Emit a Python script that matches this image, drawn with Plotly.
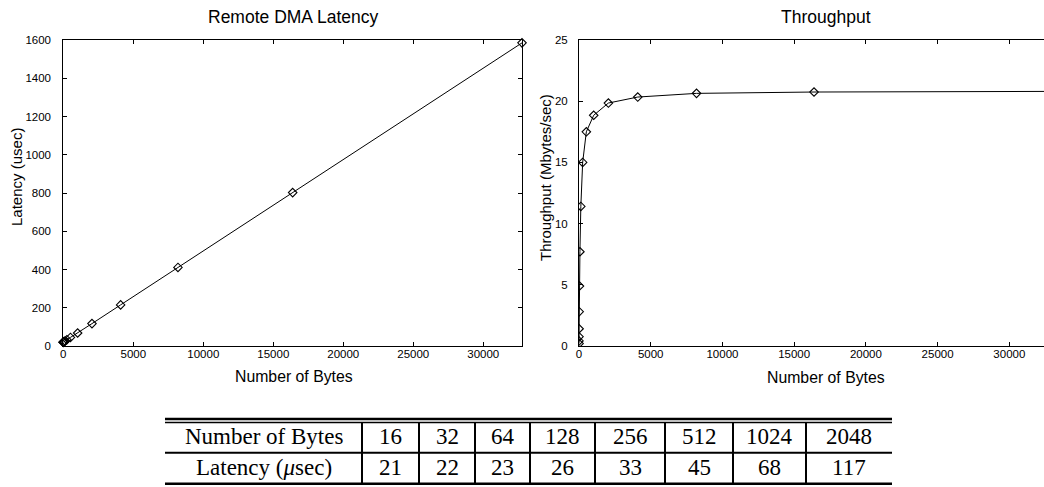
import plotly.graph_objects as go

# ---------------- data ----------------
num_bytes = [1, 2, 4, 8, 16, 32, 64, 128, 256, 512, 1024, 2048, 4096, 8192, 16384, 32768]
latency_usec = [20, 20, 20, 20, 21, 22, 23, 26, 33, 45, 68, 117, 215, 411, 802, 1585]
throughput_mbs = [0.2, 0.41, 0.76, 1.41, 2.8, 4.9, 7.7, 11.4, 15.0, 17.5, 18.85, 19.85,
                  20.34, 20.64, 20.75, 20.8]

x_ticks = [0, 5000, 10000, 15000, 20000, 25000, 30000]
lat_ticks = [0, 200, 400, 600, 800, 1000, 1200, 1400, 1600]
thr_ticks = [0, 5, 10, 15, 20, 25]

table_header = ["Number of Bytes", "16", "32", "64", "128", "256", "512", "1024", "2048"]
table_row = ["Latency (<i>μ</i>sec)", "21", "22", "23", "26", "33", "45", "68", "117"]

# ---------------- layout constants (pixels) ----------------
W, H = 1044, 487
def px(x):
    return x / W
def py(y):
    return 1 - y / H

SANS = "Liberation Sans, Arial, sans-serif"
SERIF = "Liberation Serif, Times New Roman, serif"

TABLE_LEFT = 165
TABLE_COL_WIDTHS = [197, 57, 56, 55, 65, 70, 68, 73, 86]
TABLE_TOP1, TABLE_TOP2, TABLE_MID, TABLE_BOT = 419, 422.5, 452.7, 483.7

fig = go.Figure()

fig.add_trace(go.Scatter(
    x=num_bytes, y=latency_usec, mode="lines+markers",
    line=dict(color="black", width=1),
    marker=dict(symbol="diamond-open", size=6.5, color="black", line=dict(width=1.1)),
    cliponaxis=False, xaxis="x", yaxis="y", showlegend=False))

fig.add_trace(go.Scatter(
    x=num_bytes, y=throughput_mbs, mode="lines+markers",
    line=dict(color="black", width=1),
    marker=dict(symbol="diamond-open", size=6.5, color="black", line=dict(width=1.1)),
    xaxis="x2", yaxis="y2", showlegend=False))

axis_common = dict(showgrid=False, zeroline=False, showline=True, linecolor="black",
                   linewidth=1, ticks="inside", ticklen=4, tickcolor="black",
                   automargin=False,
                   tickfont=dict(family=SANS, size=11.5, color="black"))

xt = dict(tickvals=x_ticks, ticktext=[str(v) for v in x_ticks], ticklabelstandoff=-3)

fig.update_layout(
    template="none",
    width=W, height=H, autosize=False,
    margin=dict(l=0, r=0, t=0, b=0, pad=0),
    paper_bgcolor="white", plot_bgcolor="white",
    xaxis=dict(domain=[px(63.3), px(522)], range=[0, 32768], mirror="ticks", anchor="y",
               **xt, **axis_common),
    yaxis=dict(domain=[py(346), py(40)], range=[0, 1600], tickvals=lat_ticks,
               ticktext=[str(v) for v in lat_ticks], ticklabelstandoff=9,
               mirror="ticks", anchor="x", **axis_common),
    xaxis2=dict(domain=[px(579), 1.0], range=[0, 32418], mirror="ticks", anchor="y2",
                **xt, **axis_common),
    yaxis2=dict(domain=[py(346), py(40)], range=[0, 25], tickvals=thr_ticks,
                ticktext=[str(v) for v in thr_ticks], ticklabelstandoff=8,
                mirror=False, anchor="x2", **axis_common),
)

annotations = []
def text(x, y, s, size, family=SANS, angle=0, xanchor="center"):
    annotations.append(dict(x=px(x), y=py(y), xref="paper", yref="paper", text=s,
                            showarrow=False, textangle=angle, xanchor=xanchor,
                            yanchor="middle", font=dict(family=family, size=size, color="black")))

text(293, 16.5, "Remote DMA Latency", 17.5)
text(826, 16.5, "Throughput", 17.5)
text(294, 376, "Number of Bytes", 15.8)
text(826, 377, "Number of Bytes", 15.8)
text(16, 177, "Latency (usec)", 15, angle=-90)
text(545, 178, "Throughput (Mbytes/sec)", 15, angle=-90)

# table
edges = [TABLE_LEFT]
for w in TABLE_COL_WIDTHS:
    edges.append(edges[-1] + w)
row1_y = (TABLE_TOP2 + TABLE_MID) / 2 - 1
row2_y = (TABLE_MID + TABLE_BOT) / 2 - 1
for i, (h, v) in enumerate(zip(table_header, table_row)):
    cx = (edges[i] + edges[i + 1]) / 2
    text(cx, row1_y, h, 23, family=SERIF)
    text(cx, row2_y, v, 23, family=SERIF)

shapes = []
def hline(y, w):
    shapes.append(dict(type="line", xref="paper", yref="paper", x0=px(edges[0]), x1=px(edges[-1]),
                       y0=py(y), y1=py(y), line=dict(color="black", width=w)))
hline(TABLE_TOP1, 2.5)
hline(TABLE_TOP2, 1.5)
hline(TABLE_MID, 2)
hline(TABLE_BOT, 2.5)
for e in edges[1:-1]:
    shapes.append(dict(type="line", xref="paper", yref="paper", x0=px(e), x1=px(e),
                       y0=py(TABLE_TOP2), y1=py(TABLE_BOT), line=dict(color="black", width=2)))

fig.update_layout(annotations=annotations, shapes=shapes)

fig.write_html("out.html")
